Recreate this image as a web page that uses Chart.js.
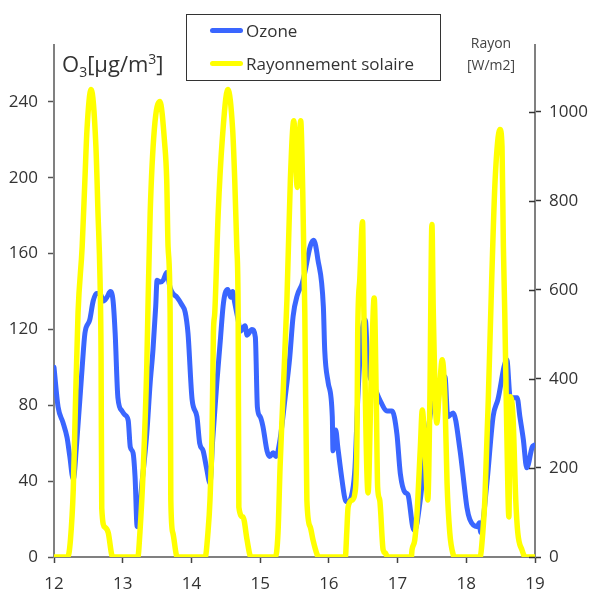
<!DOCTYPE html>
<html>
<head>
<meta charset="utf-8">
<script src="https://cdn.jsdelivr.net/npm/chart.js@4.4.1/dist/chart.umd.min.js"></script>
<style>
  body { margin: 0; background: #fff; }
  #wrap { position: relative; width: 591px; height: 594px; font-family: "Open Sans", sans-serif; color: #333; }
  #chart { position: absolute; left: 0; top: 0; }
  .legend { position: absolute; left: 186px; top: 14px; width: 253px; height: 65px; border: 1.5px solid #333; background: #fff; }
  .legend .row { position: absolute; left: 0; height: 24px; font-size: 17px; line-height: 24px; }
  .legend .swatch { position: absolute; left: 23px; top: 9px; width: 33px; height: 5px; border-radius: 3px; }
  .legend .txt { position: absolute; left: 59px; top: 0; white-space: nowrap; }
  .ytitle { position: absolute; left: 62px; top: 49px; font-size: 22px; line-height: 28px; white-space: nowrap; }
  .ytitle sub, .ytitle sup { font-size: 14px; line-height: 0; }
  .y1title { position: absolute; left: 450px; top: 32px; width: 82px; text-align: center; font-size: 14px; line-height: 22px; color: #444; }
</style>
</head>
<body>
<div id="wrap">
  <canvas id="chart" width="591" height="594"></canvas>
  <div class="ytitle">O<sub>3</sub>[µg/m<sup>3</sup>]</div>
  <div class="y1title">Rayon<br>[W/m2]</div>
  <div class="legend">
    <div class="row" style="top:4px"><span class="swatch" style="background:#3a66ff"></span><span class="txt">Ozone</span></div>
    <div class="row" style="top:37px"><span class="swatch" style="background:#ffff00"></span><span class="txt">Rayonnement solaire</span></div>
  </div>
</div>
<script>
// Ozone [µg/m3], time in days
var ozoneDays = [12.00, 12.06, 12.13, 12.19, 12.23, 12.28, 12.33, 12.41, 12.45, 12.52, 12.57, 12.62, 12.67, 12.72, 12.77, 12.82, 12.86, 12.89, 12.93, 12.99,
  13.03, 13.08, 13.11, 13.15, 13.18, 13.21, 13.28, 13.35, 13.40, 13.44, 13.48, 13.50, 13.55, 13.59, 13.64, 13.69, 13.73, 13.79, 13.86, 13.91, 13.95,
  14.01, 14.08, 14.12, 14.17, 14.22, 14.27, 14.31, 14.37, 14.42, 14.46, 14.49, 14.53, 14.57, 14.60, 14.63, 14.68, 14.71, 14.78, 14.81, 14.88, 14.93, 14.96,
  15.00, 15.04, 15.10, 15.14, 15.19, 15.23, 15.29, 15.36, 15.43, 15.48, 15.54, 15.61, 15.65, 15.73, 15.78, 15.84, 15.92, 15.94, 15.99,
  16.05, 16.06, 16.10, 16.13, 16.19, 16.24, 16.28, 16.34, 16.38, 16.42, 16.48, 16.53, 16.57, 16.64, 16.74, 16.85, 16.92, 16.99,
  17.04, 17.11, 17.15, 17.22, 17.25, 17.33, 17.42, 17.52, 17.60, 17.69, 17.73, 17.81, 17.91, 17.95,
  18.01, 18.05, 18.16, 18.19, 18.21, 18.30, 18.39, 18.46, 18.59, 18.64, 18.74, 18.78, 18.83, 18.88, 18.96, 18.99];
var ozoneValues = [100, 79, 71, 63, 53, 41, 60, 100, 118, 125, 135, 139, 139, 135, 137, 140, 135, 118, 84, 77,
  75, 72, 58, 55, 42, 16, 39, 65, 92, 109, 132, 146, 145, 146, 150, 142, 139, 137, 133, 129, 118,
  83, 74, 60, 56, 47, 39, 62, 92, 114, 132, 139, 141, 137, 140, 134, 125, 119, 122, 117, 120, 116, 79,
  74, 69, 56, 53, 55, 53, 62, 83, 105, 127, 138, 144, 150, 164, 167, 157, 132, 109, 92,
  74, 56, 67, 58, 41, 30, 29, 34, 47, 83, 118, 125, 100, 92, 83, 77, 77, 65,
  44, 34, 33, 16, 14, 30, 60, 84, 90, 95, 74, 76, 56, 44,
  26, 20, 16, 18, 13, 39, 74, 83, 104, 84, 84, 74, 62, 47, 58, 59];

// Rayonnement solaire [W/m2]
var solarDays = [12.00, 12.20, 12.24, 12.28, 12.31, 12.35, 12.41, 12.45, 12.48, 12.54, 12.61, 12.64, 12.67, 12.685, 12.695, 12.74, 12.79, 12.84, 12.86,
  13.22, 13.25, 13.30, 13.35, 13.37, 13.40, 13.46, 13.54, 13.61, 13.64, 13.66, 13.69, 13.70, 13.73, 13.78, 13.80,
  14.20, 14.24, 14.27, 14.30, 14.32, 14.34, 14.39, 14.45, 14.53, 14.60, 14.63, 14.66, 14.68, 14.69, 14.75, 14.81, 14.85, 14.87,
  15.22, 15.26, 15.29, 15.33, 15.39, 15.44, 15.49, 15.54, 15.59, 15.62, 15.65, 15.68, 15.73, 15.77, 15.83, 15.85,
  16.24, 16.26, 16.28, 16.34, 16.38, 16.41, 16.42, 16.45, 16.49, 16.51, 16.57, 16.62, 16.66, 16.69, 16.71, 16.74, 16.79, 16.82, 16.86,
  17.20, 17.21, 17.25, 17.28, 17.33, 17.36, 17.40, 17.44, 17.47, 17.50, 17.52, 17.57, 17.60, 17.65, 17.69, 17.72, 17.76, 17.81, 17.83,
  18.20, 18.24, 18.27, 18.32, 18.37, 18.42, 18.49, 18.52, 18.54, 18.56, 18.59, 18.62, 18.64, 18.68, 18.72, 18.75, 18.81, 18.86, 19.00];
var solarValues = [0, 0, 40, 150, 330, 549, 697, 848, 960, 1050, 922, 774, 623, 450, 110, 67, 54, 5, 0,
  0, 54, 202, 427, 578, 774, 960, 1023, 930, 848, 697, 549, 128, 54, 5, 0,
  0, 54, 128, 279, 504, 549, 774, 940, 1050, 960, 848, 697, 549, 112, 90, 38, 5, 0,
  0, 54, 202, 353, 578, 848, 980, 830, 980, 820, 549, 128, 67, 38, 5, 0,
  0, 54, 112, 128, 144, 279, 504, 623, 753, 549, 144, 427, 582, 353, 157, 128, 16, 9, 0,
  0, 16, 38, 90, 241, 330, 241, 128, 353, 747, 549, 301, 353, 443, 353, 166, 54, 5, 0,
  0, 54, 128, 353, 623, 848, 960, 922, 697, 549, 279, 90, 360, 315, 128, 54, 16, 0, 0];

var xTickLabels = ['12', '13', '14', '15', '16', '17', '18', '19'];

function toPoints(xs, ys) {
  return xs.map(function (x, i) { return { x: x, y: ys[i] }; });
}

var tickFont = { family: 'Open Sans', size: 17 };

// right axis ticks cross the axis line
var crossTicks = {
  id: 'crossTicks',
  afterDraw: function (chart) {
    var s = chart.scales.y1, c = chart.ctx;
    c.save();
    c.strokeStyle = '#333';
    c.lineWidth = 1.5;
    s.ticks.forEach(function (t) {
      var y = Math.round(s.getPixelForValue(t.value)) + 0.5;
      c.beginPath();
      c.moveTo(s.left - 6, y);
      c.lineTo(s.left, y);
      c.stroke();
    });
    c.restore();
  }
};

var ctx = document.getElementById('chart').getContext('2d');
var myChart = new Chart(ctx, {
  type: 'line',
  data: {
    datasets: [
      {
        label: 'Ozone',
        data: toPoints(ozoneDays, ozoneValues),
        yAxisID: 'y',
        borderColor: '#3a66ff',
        borderWidth: 5,
        cubicInterpolationMode: 'monotone',
        borderJoinStyle: 'round',
        borderCapStyle: 'round',
        pointRadius: 0,
        order: 2,
      },
      {
        label: 'Rayonnement solaire',
        data: toPoints(solarDays, solarValues),
        yAxisID: 'y1',
        borderColor: '#ffff00',
        borderWidth: 5.5,
        cubicInterpolationMode: 'monotone',
        borderJoinStyle: 'round',
        borderCapStyle: 'round',
        pointRadius: 0,
        order: 1,
      },
    ],
  },
  options: {
    responsive: false,
    animation: false,
    layout: { padding: { top: 45 } },
    plugins: { legend: { display: false }, tooltip: { enabled: false } },
    scales: {
      x: {
        type: 'linear',
        min: 12,
        max: 19,
        ticks: {
          stepSize: 1,
          font: tickFont,
          color: '#333',
          padding: 11,
          callback: function (v) { return xTickLabels[v - 12]; },
        },
        grid: { drawOnChartArea: false, tickLength: 6, tickColor: '#444', tickWidth: 1.5 },
        border: { color: '#808080', width: 2 },
        afterFit: function (s) { s.height = 37; },
      },
      y: {
        position: 'left',
        min: 0,
        max: 270,
        ticks: { stepSize: 40, font: tickFont, color: '#333', padding: 10 },
        afterBuildTicks: function (s) { s.ticks = s.ticks.filter(function (t) { return t.value <= 240; }); },
        grid: { drawOnChartArea: false, tickLength: 6, tickColor: '#555', tickWidth: 1.5 },
        border: { color: '#808080', width: 2 },
        afterFit: function (s) { s.width = 54; },
      },
      y1: {
        position: 'right',
        min: 0,
        max: 1150,
        ticks: { stepSize: 200, font: tickFont, color: '#333', padding: 8, callback: function (v) { return String(v); } },
        afterBuildTicks: function (s) { s.ticks = s.ticks.filter(function (t) { return t.value <= 1000; }); },
        grid: { drawOnChartArea: false, tickLength: 6, tickColor: '#333', tickWidth: 1.5 },
        border: { color: '#808080', width: 2 },
        afterFit: function (s) { s.width = 56; },
      },
    },
  },
  plugins: [crossTicks],
});
</script>
</body>
</html>
